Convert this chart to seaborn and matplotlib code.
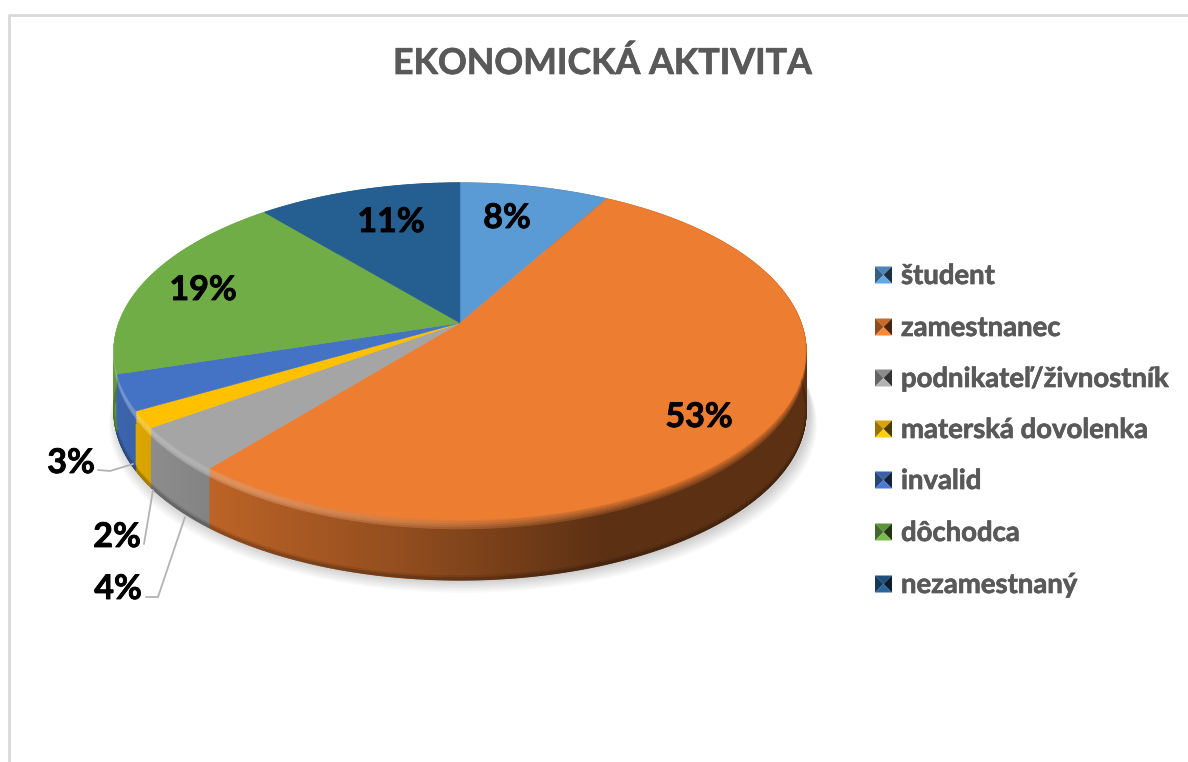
"""
3D looking pie chart of economic activity
"""
import matplotlib.patheffects as pe
import matplotlib.pyplot as plt
import numpy as np
import seaborn as sns
from matplotlib.collections import PolyCollection

categories = [
    "študent",
    "zamestnanec",
    "podnikateľ/živnostník",
    "materská dovolenka",
    "invalid",
    "dôchodca",
    "nezamestnaný",
]
shares = [8.2, 52.8, 4.2, 1.6, 3.4, 18.6, 11.2]
colors = ["#5b9bd5", "#ed7d31", "#a5a5a5", "#ffc000", "#4472c4", "#70ad47", "#255e91"]
chart_title = "EKONOMICKÁ AKTIVITA"

# pixel layout of the disc
CX, CY = 460, 323
RX, RY = 341, 163.7
TILT = 0.169
DEPTH = 60

sns.set_theme(style="white")
plt.rcParams["font.family"] = ["Lato", "DejaVu Sans"]
palette = np.array(sns.color_palette(colors))
thicker = [pe.withStroke(linewidth=0.5, foreground="#595959")]


def project(theta, radius=1.0):
    """Map disc angle (clockwise from the top, degrees) to picture pixels."""
    rad = np.radians(theta)
    u = radius * np.sin(rad)
    v = radius * np.cos(rad)
    w = 1 + TILT * v
    return CX + RX * u / w, CY - RY * v / w


def side_shade(x):
    return np.interp(x, [120, 215, 400, 600, 806], [0.88, 0.79, 0.62, 0.39, 0.39])


fig = plt.figure(figsize=(11.88, 7.62), dpi=100)
ax = fig.add_axes([0, 0, 1, 1])
ax.set_xlim(0, 1188)
ax.set_ylim(762, 0)
ax.axis("off")

# chart frame, only left and top are in view
ax.plot([9, 9, 1188], [762, 15, 15], color="#d9d9d9", lw=2, solid_capstyle="butt")

# soft shadow below the disc
ring_x, ring_y = project(np.linspace(0, 360, 361))
for grow in np.arange(16, 0, -2):
    ax.fill(
        CX + (ring_x - CX) * (1 + grow / 700) + 3,
        ring_y + DEPTH + grow * 0.8,
        color="black",
        alpha=0.025,
        lw=0,
    )

edges = np.concatenate([[0], np.cumsum(shares)]) * 3.6
layers = [0, 2, 4, 6, 8, 10, 13, 56, 58, DEPTH]

# side wall, split in thin strips so shading can follow the rim
polys, poly_colors = [], []
for i, base in enumerate(palette):
    steps = max(int(edges[i + 1] - edges[i]), 2) * 4
    angles = np.linspace(edges[i], edges[i + 1], steps + 1)
    for a0, a1 in zip(angles[:-1], angles[1:]):
        x0, y0 = project(a0)
        x1, y1 = project(a1)
        mid = (x0 + x1) / 2
        wall = base * side_shade(mid)
        shine = np.interp(mid, [120, 300, 500, 680], [0.3, 0.2, 0.06, 0.0])
        for low, high in zip(layers[:-1], layers[1:]):
            t = min(high / 13, 1)
            col = base * (1 - t) + wall * t
            col = col + (1 - col) * shine * np.sin(np.pi * t)
            if low >= 56:
                col = wall * (0.9 if low == 56 else 0.75)
            polys.append(
                [(x0, y0 + low), (x1, y1 + low), (x1, y1 + high), (x0, y0 + high)]
            )
            poly_colors.append(col)
order = np.argsort([p[0][1] for p in polys])
ax.add_collection(
    PolyCollection(
        [polys[k] for k in order],
        facecolors=[poly_colors[k] for k in order],
        edgecolors=[poly_colors[k] for k in order],
        linewidths=0.9,
    )
)

# top face
for i, base in enumerate(palette):
    angles = np.linspace(edges[i], edges[i + 1], 120)
    xs, ys = project(angles)
    ax.fill(
        np.concatenate([[CX], xs]),
        np.concatenate([[CY], ys]),
        color=base,
        lw=0.3,
    )

# value labels
label_xy = [
    (507, 218),
    (699, 417),
    (118, 589),
    (117, 537),
    (71, 463),
    (203, 290),
    (391, 222),
]
for value, (lx, ly) in zip(shares, label_xy):
    ax.text(
        lx, ly, f"{value:.0f}%", ha="center", va="center",
        fontsize=24.5, fontweight="bold", color="black",
        path_effects=[pe.withStroke(linewidth=0.6, foreground="black")],
    )

# leader lines of the small slices
leader_lines = [
    ([146, 158, 185], [597, 597, 517]),
    ([144, 153], [544, 490]),
    ([98, 110, 133], [470, 471, 464]),
]
for lx, ly in leader_lines:
    ax.plot(lx, ly, color="#b3b3b3", lw=1.3)

ax.text(
    602, 63, chart_title, ha="center", va="center",
    fontsize=25.7, fontweight="bold", color="#595959", path_effects=thicker,
)

# legend with small pyramid keys
legend_y = [275, 327, 378, 429, 480, 532, 584]
KEY = 8.5
for name, base, ly in zip(categories, palette, legend_y):
    kx = 883.5
    ctr = (kx, ly)
    corners = {
        "tl": (kx - KEY, ly - KEY),
        "tr": (kx + KEY, ly - KEY),
        "br": (kx + KEY, ly + KEY),
        "bl": (kx - KEY, ly + KEY),
    }
    faces = [
        ("tl", "tr", 0.85),
        ("tl", "bl", 0.6),
        ("tr", "br", 0.3),
        ("bl", "br", 1.08),
    ]
    for a, b, shade in faces:
        tri = np.array([corners[a], corners[b], ctr])
        ax.fill(tri[:, 0], tri[:, 1], color=np.clip(base * shade, 0, 1), lw=0)
    ax.text(
        901, ly + 1, name, ha="left", va="center",
        fontsize=19.8, fontweight="bold", color="#595959", path_effects=thicker,
    )

fig.savefig("out.png", dpi=100)
